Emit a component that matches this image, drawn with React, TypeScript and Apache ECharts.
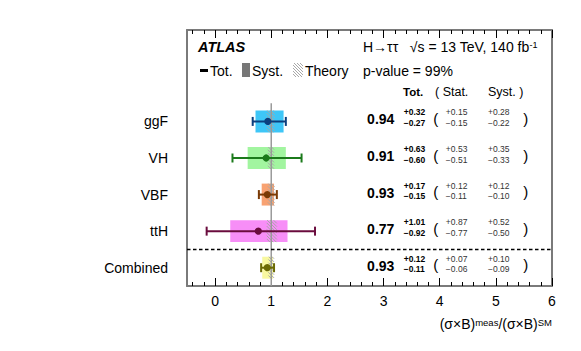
import React, { useEffect, useRef } from 'react';
import * as echarts from 'echarts';

const categories = ['ggF', 'VH', 'VBF', 'ttH', 'Combined'];
const central = [0.94, 0.91, 0.93, 0.77, 0.93];
const totUp = [0.32, 0.63, 0.17, 1.01, 0.12];
const totDn = [0.27, 0.60, 0.15, 0.92, 0.11];
const statUp = [0.15, 0.53, 0.12, 0.87, 0.07];
const statDn = [0.15, 0.51, 0.11, 0.77, 0.06];
const systUp = [0.28, 0.35, 0.12, 0.52, 0.10];
const systDn = [0.22, 0.33, 0.10, 0.50, 0.09];
const theoryUp = [0.06, 0.05, 0.06, 0.10, 0.05];
const theoryDn = [0.08, 0.06, 0.06, 0.08, 0.05];
const boxColors = ['#3ec6f7', '#a2f5a0', '#f8a272', '#f78ef7', '#f8f8a0'];
const barColors = ['#0b3f7e', '#1b7a1b', '#7a3a05', '#6a0c3e', '#6b6a05'];
const xMajorTicks = [0, 1, 2, 3, 4, 5, 6];
const xMinorTicks = [-0.4, -0.2, 0.2, 0.4, 0.6, 0.8, 1.2, 1.4, 1.6, 1.8, 2.2, 2.4, 2.6, 2.8, 3.2, 3.4, 3.6, 3.8, 4.2, 4.4, 4.6, 4.8, 5.2, 5.4, 5.6, 5.8];

const FONT = '"Liberation Sans", Arial, Helvetica, sans-serif';
const nRows = categories.length;
const rowY = categories.map((_, i) => nRows - i);

function fmt(v: number, sign: string) {
  return (sign === '+' ? '+' : '\u2212') + v.toFixed(2);
}

function diagLines(x0: number, y0: number, x1: number, y1: number, step: number, color: string, width: number) {
  const out: any[] = [];
  for (let c = x0 - y1; c <= x1 - y0; c += step) {
    const xa = Math.max(x0, y0 + c);
    const xb = Math.min(x1, y1 + c);
    if (xb > xa) {
      out.push({
        type: 'line',
        shape: { x1: xa, y1: xa - c, x2: xb, y2: xb - c },
        style: { stroke: color, lineWidth: width },
      });
    }
  }
  return out;
}

export default function App() {
  const ref = useRef<HTMLDivElement>(null);
  useEffect(() => {
    if (!ref.current) return;
    const chart = echarts.init(ref.current, undefined, { renderer: 'svg' });
    const rowData = categories.map((_, i) => [central[i], rowY[i], i]);

    const axisCommon = {
      type: 'value',
      min: -0.5,
      max: 6,
      splitLine: { show: false },
    };
    const frameLine = { show: true, onZero: false, lineStyle: { color: '#7a7a7a', width: 2 } };

    const option: any = {
      animation: false,
      backgroundColor: '#fff',
      grid: { left: 187, top: 30, right: 29, bottom: 65 },
      xAxis: [
        {
          ...axisCommon,
          position: 'bottom',
          axisLine: frameLine,
          axisTick: { show: true, inside: true, length: 8, customValues: xMajorTicks, lineStyle: { color: '#000', width: 1 } },
          axisLabel: { show: true, customValues: xMajorTicks, fontSize: 14, fontFamily: FONT, color: '#000', margin: 8 },
        },
        {
          ...axisCommon,
          position: 'bottom',
          axisLine: { show: false, onZero: false },
          axisTick: { show: true, inside: true, length: 4, customValues: xMinorTicks, lineStyle: { color: '#000', width: 1 } },
          axisLabel: { show: false },
        },
        {
          ...axisCommon,
          position: 'top',
          axisLine: frameLine,
          axisTick: { show: true, inside: true, length: 8, customValues: xMajorTicks, lineStyle: { color: '#000', width: 1 } },
          axisLabel: { show: false },
        },
        {
          ...axisCommon,
          position: 'top',
          axisLine: { show: false, onZero: false },
          axisTick: { show: true, inside: true, length: 4, customValues: xMinorTicks, lineStyle: { color: '#000', width: 1 } },
          axisLabel: { show: false },
        },
      ],
      yAxis: [
        {
          type: 'value',
          min: 0.5,
          max: 7.5,
          position: 'left',
          splitLine: { show: false },
          axisLine: frameLine,
          axisTick: { show: false },
          axisLabel: {
            show: true,
            customValues: rowY,
            formatter: (v: number) => categories[nRows - Math.round(v)] ?? '',
            fontSize: 14,
            fontFamily: FONT,
            color: '#000',
            margin: 19,
          },
        },
        {
          type: 'value',
          min: 0.5,
          max: 7.5,
          position: 'right',
          splitLine: { show: false },
          axisLine: frameLine,
          axisTick: { show: false },
          axisLabel: { show: false },
        },
      ],
      series: [
        {
          type: 'custom',
          z: 1,
          data: rowData,
          renderItem: (params: any, api: any) => {
            const i = api.value(2);
            const y = api.value(1);
            const h = api.size([0, 0.6])[1];
            const pL = api.coord([central[i] - systDn[i], y]);
            const pR = api.coord([central[i] + systUp[i], y]);
            const tL = api.coord([1 - theoryDn[i], y]);
            const tR = api.coord([1 + theoryUp[i], y]);
            const top = pL[1] - h / 2;
            return {
              type: 'group',
              children: [
                {
                  type: 'rect',
                  shape: { x: pL[0], y: top, width: pR[0] - pL[0], height: h },
                  style: { fill: boxColors[i] },
                },
                ...diagLines(tL[0], top, tR[0], top + h, 3.2, '#a8a8a8', 1),
              ],
            };
          },
        },
        {
          type: 'line',
          z: 3,
          symbol: 'none',
          data: [[1, 0.5], [1, nRows + 0.5]],
          lineStyle: { color: '#9a9a9a', width: 1.5 },
        },
        {
          type: 'line',
          z: 3,
          symbol: 'none',
          data: [[-0.5, 1.5], [6, 1.5]],
          lineStyle: { color: '#000', width: 1.5, type: [3.5, 2.5] },
        },
        {
          type: 'custom',
          z: 4,
          data: rowData,
          renderItem: (params: any, api: any) => {
            const i = api.value(2);
            const y = api.value(1);
            const c = api.coord([central[i], y]);
            const l = api.coord([central[i] - totDn[i], y]);
            const r = api.coord([central[i] + totUp[i], y]);
            const col = barColors[i];
            const cap = 4.5;
            return {
              type: 'group',
              children: [
                { type: 'line', shape: { x1: l[0], y1: c[1], x2: r[0], y2: c[1] }, style: { stroke: col, lineWidth: 2 } },
                { type: 'line', shape: { x1: l[0], y1: c[1] - cap, x2: l[0], y2: c[1] + cap }, style: { stroke: col, lineWidth: 2 } },
                { type: 'line', shape: { x1: r[0], y1: c[1] - cap, x2: r[0], y2: c[1] + cap }, style: { stroke: col, lineWidth: 2 } },
                { type: 'circle', shape: { cx: c[0], cy: c[1], r: 3.6 }, style: { fill: col } },
              ],
            };
          },
        },
        {
          type: 'custom',
          z: 5,
          clip: false,
          data: rowData,
          renderItem: (params: any, api: any) => {
            const i = api.value(2);
            const y = api.value(1);
            const pv = api.coord([2.95, y]);
            const pt = api.coord([3.36, y]);
            const po = api.coord([3.93, y]);
            const ps = api.coord([4.11, y]);
            const py = api.coord([4.86, y]);
            const pc = api.coord([5.49, y]);
            const yc = pv[1];
            const small = (x: number, yy: number, text: string, bold: boolean, color: string) => ({
              type: 'text',
              x,
              y: yy,
              style: { text, fontSize: 8.5, fontWeight: bold ? 'bold' : 'normal', fontFamily: FONT, fill: color, align: 'left', verticalAlign: 'middle' },
            });
            return {
              type: 'group',
              children: [
                {
                  type: 'text', x: pv[0], y: yc - 2,
                  style: { text: central[i].toFixed(2), fontSize: 14, fontWeight: 'bold', fontFamily: FONT, fill: '#000', align: 'center', verticalAlign: 'middle' },
                },
                small(pt[0], yc - 9, fmt(totUp[i], '+'), true, '#000'),
                small(pt[0], yc + 1.5, fmt(totDn[i], '-'), true, '#000'),
                {
                  type: 'text', x: po[0], y: yc - 3,
                  style: { text: '(', fontSize: 15, fontFamily: FONT, fill: '#000', align: 'center', verticalAlign: 'middle' },
                },
                small(ps[0], yc - 9, fmt(statUp[i], '+'), false, '#333'),
                small(ps[0], yc + 1.5, fmt(statDn[i], '-'), false, '#333'),
                small(py[0], yc - 9, fmt(systUp[i], '+'), false, '#333'),
                small(py[0], yc + 1.5, fmt(systDn[i], '-'), false, '#333'),
                {
                  type: 'text', x: pc[0], y: yc - 3,
                  style: { text: ')', fontSize: 15, fontFamily: FONT, fill: '#000', align: 'left', verticalAlign: 'middle' },
                },
              ],
            };
          },
        },
      ],
      graphic: [
        { type: 'text', x: 198, y: 47, style: { text: 'ATLAS', fontSize: 14.5, fontWeight: 'bold', fontStyle: 'italic', fontFamily: FONT, fill: '#000', verticalAlign: 'middle' } },
        {
          type: 'text', x: 363, y: 47,
          style: {
            text: 'H\u2192\u03c4\u03c4   \u221as = 13 TeV, 140 fb{sup|-1}',
            fontSize: 14, fontFamily: FONT, fill: '#000', verticalAlign: 'middle',
            rich: { sup: { fontSize: 9, verticalAlign: 'top', lineHeight: 9, fontFamily: FONT } },
          },
        },
        { type: 'text', x: 363, y: 71, style: { text: 'p-value = 99%', fontSize: 14, fontFamily: FONT, fill: '#000', verticalAlign: 'middle' } },
        { type: 'rect', shape: { x: 200, y: 69, width: 8, height: 3 }, style: { fill: '#000' } },
        { type: 'text', x: 210, y: 71, style: { text: 'Tot.', fontSize: 14, fontFamily: FONT, fill: '#000', verticalAlign: 'middle' } },
        { type: 'rect', shape: { x: 242, y: 63, width: 8, height: 14 }, style: { fill: '#777' } },
        { type: 'text', x: 252, y: 71, style: { text: 'Syst.', fontSize: 14, fontFamily: FONT, fill: '#000', verticalAlign: 'middle' } },
        { type: 'group', children: diagLines(293, 63, 303, 77, 3, '#a8a8a8', 1) },
        { type: 'text', x: 305, y: 71, style: { text: 'Theory', fontSize: 14, fontFamily: FONT, fill: '#000', verticalAlign: 'middle' } },
        { type: 'text', x: 403, y: 92, style: { text: 'Tot.', fontSize: 11.5, fontWeight: 'bold', fontFamily: FONT, fill: '#000', verticalAlign: 'middle' } },
        { type: 'text', x: 435, y: 92, style: { text: '( Stat.', fontSize: 12.5, fontFamily: FONT, fill: '#000', verticalAlign: 'middle' } },
        { type: 'text', x: 488, y: 92, style: { text: 'Syst. )', fontSize: 12.5, fontFamily: FONT, fill: '#000', verticalAlign: 'middle' } },
        {
          type: 'text', x: 552, y: 324,
          style: {
            text: '(\u03c3\u00d7B){sup|meas}/(\u03c3\u00d7B){sup|SM}',
            fontSize: 14, fontFamily: FONT, fill: '#000', align: 'right', verticalAlign: 'middle',
            rich: { sup: { fontSize: 9.5, verticalAlign: 'top', lineHeight: 9, fontFamily: FONT } },
          },
        },
      ],
    };
    chart.setOption(option);
    return () => chart.dispose();
  }, []);
  return <div ref={ref} style={{ position: 'absolute', left: 0, top: 0, width: 581, height: 351 }} />;
}
